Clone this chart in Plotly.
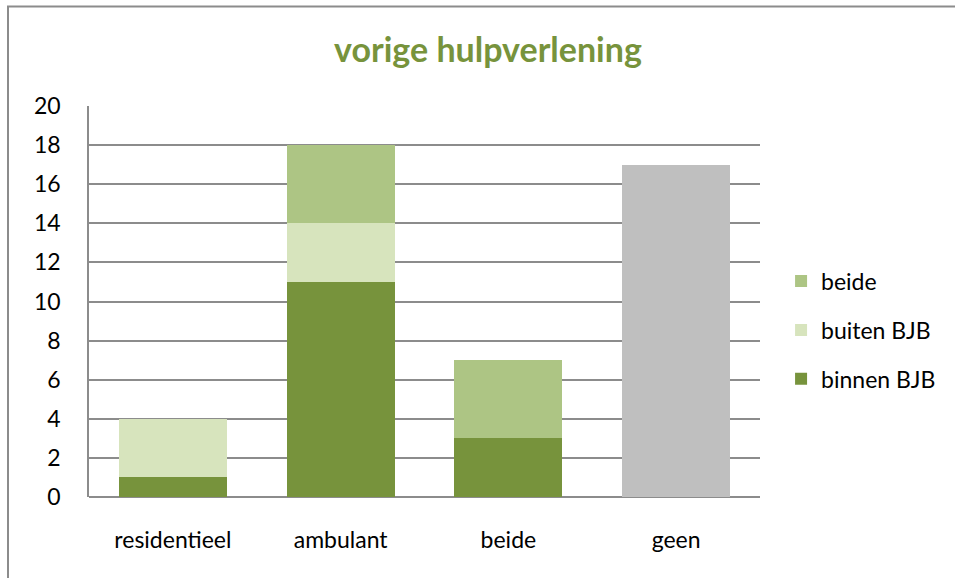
import plotly.graph_objects as go

categories = ["residentieel", "ambulant", "beide", "geen"]
binnen_bjb = [1, 11, 3, None]
buiten_bjb = [3, 3, None, None]
beide = [None, 4, 4, None]
geen = [None, None, None, 17]
y_ticks = list(range(0, 21, 2))

FONT = "Lato, Calibri, Carlito, sans-serif"

fig = go.Figure()
fig.add_trace(go.Bar(name="binnen BJB", x=categories, y=binnen_bjb, marker_color="#77933C",
                     legendgroup="a", legendrank=3))
fig.add_trace(go.Bar(name="buiten BJB", x=categories, y=buiten_bjb, marker_color="#D7E4BD",
                     legendgroup="b", legendrank=2))
fig.add_trace(go.Bar(name="beide", x=categories, y=beide, marker_color="#ADC584",
                     legendgroup="c", legendrank=1))
fig.add_trace(go.Bar(name="geen", x=categories, y=geen, marker_color="#BFBFBF",
                     showlegend=False, legendgroup="d", legendrank=4))

fig.update_traces(marker_line_width=0)

fig.update_layout(
    barmode="stack",
    bargap=0.356,
    width=955, height=578,
    margin=dict(l=89, r=195, t=106, b=81),
    paper_bgcolor="white",
    plot_bgcolor="white",
    font=dict(family=FONT, size=23, color="#000000"),
    title=dict(text="<b>vorige hulpverlening</b>", x=0.511, xanchor="center",
               y=0.913, yanchor="middle",
               font=dict(family=FONT, size=34, color="#77933C")),
    xaxis=dict(showline=False, showgrid=False, ticks="", tickfont=dict(size=23),
               ticklabelstandoff=27),
    yaxis=dict(range=[0, 20], tickvals=y_ticks, showgrid=True, gridcolor="#8C8C8C",
               gridwidth=1.5, showline=True, linecolor="#8C8C8C", linewidth=1.5,
               zeroline=True, zerolinecolor="#8C8C8C", zerolinewidth=2,
               ticks="", tickfont=dict(size=23), ticklabelstandoff=22),
    legend=dict(x=1.0314, y=0.427, xanchor="left", yanchor="middle",
                traceorder="grouped", font=dict(size=23),
                itemwidth=30, tracegroupgap=16, itemsizing="constant"),
    showlegend=True,
)

# outer chart border (top and left visible, right/bottom beyond the view)
fig.add_shape(type="rect", xref="paper", yref="paper",
              x0=(8 - 89) / 671, x1=(965 - 89) / 671,
              y0=(497 - 590) / 391, y1=1 + (106 - 6.5) / 391,
              line=dict(color="#8C8C8C", width=2), fillcolor="rgba(0,0,0,0)", layer="below")

fig.write_html("out.html", config={"displayModeBar": False},
               post_script="document.body.style.margin='0';")
